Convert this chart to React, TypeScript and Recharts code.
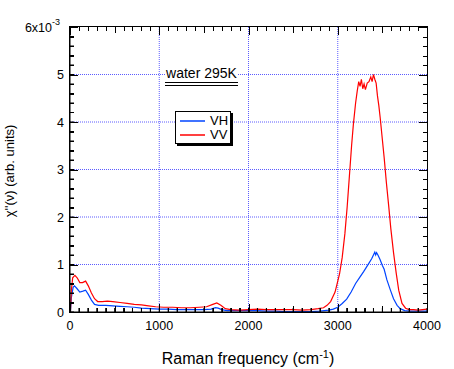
import { LineChart, Line, XAxis, YAxis, ReferenceLine } from 'recharts';

const FONT = '"Liberation Sans", Arial, Helvetica, sans-serif';

// Raman spectra of water at 295 K: [frequency (cm-1), chi'' in units of 1e-3]
const vhSpectrum: [number, number][] = [
  [5, 0], [15, 0.3], [35, 0.52], [50, 0.55], [75, 0.5], [110, 0.42], [145, 0.44],
  [175, 0.46], [205, 0.37], [240, 0.25], [275, 0.16], [320, 0.14], [400, 0.14],
  [480, 0.13], [560, 0.12], [640, 0.11], [720, 0.1], [800, 0.08], [900, 0.07],
  [1000, 0.06], [1100, 0.06], [1200, 0.05], [1300, 0.05], [1400, 0.05], [1500, 0.05],
  [1580, 0.06], [1630, 0.09], [1660, 0.08], [1700, 0.05], [1760, 0.03], [1850, 0.03],
  [2000, 0.03], [2100, 0.03], [2200, 0.02], [2300, 0.02], [2400, 0.01], [2500, 0.01],
  [2600, 0.01], [2700, 0.01], [2800, 0.02], [2900, 0.04], [2950, 0.06], [3000, 0.1],
  [3050, 0.18], [3100, 0.27], [3150, 0.42], [3200, 0.6], [3250, 0.74], [3290, 0.85],
  [3320, 0.94], [3350, 1.03], [3380, 1.12], [3400, 1.2], [3415, 1.26], [3425, 1.2],
  [3435, 1.25], [3450, 1.2], [3475, 1.1], [3500, 0.98], [3520, 0.9], [3550, 0.68],
  [3590, 0.46], [3625, 0.28], [3665, 0.14], [3700, 0.07], [3750, 0.03], [3800, 0.02],
  [3900, 0.02], [4000, 0.02],
];

const vvSpectrum: [number, number][] = [
  [5, 0], [15, 0.45], [30, 0.72], [55, 0.77], [80, 0.72], [110, 0.62], [140, 0.62],
  [175, 0.65], [205, 0.55], [240, 0.4], [275, 0.28], [310, 0.22], [360, 0.22],
  [420, 0.23], [480, 0.22], [560, 0.2], [640, 0.18], [720, 0.16], [800, 0.15],
  [880, 0.13], [960, 0.11], [1050, 0.1], [1150, 0.1], [1250, 0.09], [1350, 0.09],
  [1450, 0.1], [1530, 0.11], [1600, 0.16], [1645, 0.19], [1690, 0.14], [1740, 0.07],
  [1800, 0.05], [1900, 0.04], [2000, 0.05], [2100, 0.06], [2200, 0.05], [2300, 0.05],
  [2400, 0.05], [2500, 0.05], [2600, 0.04], [2700, 0.05], [2780, 0.07], [2840, 0.09],
  [2880, 0.14], [2920, 0.22], [2970, 0.42], [3020, 0.8], [3050, 1.15], [3080, 1.65],
  [3105, 2.2], [3130, 2.85], [3155, 3.5], [3175, 3.95], [3200, 4.4], [3218, 4.65],
  [3235, 4.85], [3250, 4.75], [3265, 4.9], [3280, 4.7], [3295, 4.8], [3310, 4.68],
  [3330, 4.82], [3350, 4.85], [3370, 4.95], [3385, 4.85], [3400, 5.0], [3415, 4.9],
  [3430, 4.82], [3445, 4.55], [3460, 4.35], [3475, 4.1], [3495, 3.72], [3520, 3.25],
  [3545, 2.72], [3570, 2.25], [3595, 1.75], [3625, 1.25], [3655, 0.82], [3683, 0.46],
  [3720, 0.18], [3760, 0.08], [3800, 0.05], [3850, 0.05], [3900, 0.04], [3950, 0.05],
  [4000, 0.06],
];

const seriesNames = ['VH', 'VV'];
const seriesColors = ['#0044ff', '#ff0000'];

const xGrid = [1000, 2000, 3000];
const yGrid = [1, 2, 3, 4, 5];
const xTicks = Array.from({ length: 41 }, (_, i) => i * 100);
const yTicks = Array.from({ length: 31 }, (_, i) => (i * 2) / 10);

const vhRows = vhSpectrum.map(([x, y]) => ({ x, y }));
const vvRows = vvSpectrum.map(([x, y]) => ({ x, y }));

// plot box (matches the chart margins below)
const BOX = { left: 70, top: 27, right: 427, bottom: 312 };
const pxX = (v: number) => Math.round(BOX.left + (v / 4000) * (BOX.right - BOX.left));
const pxY = (v: number) => Math.round(BOX.bottom - (v / 6) * (BOX.bottom - BOX.top));

const isWhole = (v: number) => Math.abs(v - Math.round(v)) < 1e-6;
const xLen = (v: number) => (v % 1000 === 0 ? 8 : v % 500 === 0 ? 6 : 4);
const yLen = (v: number) => (isWhole(v) ? 8 : 4);

// tick labels only; the inward tick lines come from tickSize={-4}
const bottomTick = (p: any) => {
  const v = p.payload.value;
  if (v % 1000 !== 0) return <g key={'b' + v} />;
  return (
    <text key={'b' + v} x={p.x} y={Number(p.y) + 18} textAnchor="middle" fontSize={12.5} fontFamily={FONT} fill="#000">
      {v}
    </text>
  );
};

const leftTick = (p: any) => {
  const v = p.payload.value;
  const n = Math.round(v);
  const x = Number(p.x);
  const y = Number(p.y) + 4.5;
  if (!isWhole(v)) return <g key={'l' + v} />;
  if (n === 6)
    return (
      <text key="l6" x={x - 10} y={y} textAnchor="end" fontSize={12.5} fontFamily={FONT} fill="#000">
        6x10<tspan dy={-6.5} fontSize={9}>-3</tspan>
      </text>
    );
  return (
    <text key={'l' + v} x={x - 6} y={y} textAnchor="end" fontSize={12.5} fontFamily={FONT} fill="#000">
      {n}
    </text>
  );
};

const mark = (key: string, left: number, top: number, width: number, height: number) => (
  <div key={key} style={{ position: 'absolute', left, top, width, height, background: '#000' }} />
);

export default function App() {
  return (
    <div style={{ position: 'absolute', left: 0, top: 0, width: 454, height: 369 }}>
      <LineChart width={454} height={369} margin={{ top: 27, right: 27, bottom: 27, left: 10 }}>
        <XAxis
          dataKey="x"
          type="number"
          domain={[0, 4000]}
          ticks={xTicks}
          interval={0}
          tickSize={-4}
          tickMargin={4}
          tick={bottomTick}
          tickLine={{ stroke: '#000' }}
          axisLine={{ stroke: '#000' }}
          height={30}
        />
        <YAxis
          type="number"
          domain={[0, 6]}
          ticks={yTicks}
          interval={0}
          tickSize={-4}
          tickMargin={4}
          tick={leftTick}
          tickLine={{ stroke: '#000' }}
          axisLine={{ stroke: '#000' }}
          width={60}
        />
        {xGrid.map((v) => (
          <ReferenceLine key={'gx' + v} x={v} stroke="#5c5cff" strokeDasharray="1 1" />
        ))}
        {yGrid.map((v) => (
          <ReferenceLine key={'gy' + v} y={v} stroke="#5c5cff" strokeDasharray="1 1" />
        ))}
        <Line data={vhRows} dataKey="y" name={seriesNames[0]} stroke={seriesColors[0]} strokeWidth={1.2} dot={false} isAnimationActive={false} />
        <Line data={vvRows} dataKey="y" name={seriesNames[1]} stroke={seriesColors[1]} strokeWidth={1.2} dot={false} isAnimationActive={false} />
      </LineChart>

      {/* frame and inward tick marks on all four sides */}
      <div style={{ position: 'absolute', left: 0, top: 0, width: 454, height: 369, pointerEvents: 'none' }}>
        <div
          style={{
            position: 'absolute',
            left: BOX.left - 1,
            top: BOX.top - 1,
            width: BOX.right - BOX.left + 2,
            height: BOX.bottom - BOX.top + 2,
            border: '1px solid #000',
            boxSizing: 'border-box',
          }}
        />
        {xTicks.map((v) => mark('tb' + v, pxX(v), BOX.bottom - xLen(v), 1, xLen(v)))}
        {xTicks.map((v) => mark('tt' + v, pxX(v), BOX.top, 1, xLen(v)))}
        {yTicks.map((v) => mark('tl' + v, BOX.left, pxY(v), yLen(v), 1))}
        {yTicks.map((v) => mark('tr' + v, BOX.right - yLen(v), pxY(v), yLen(v), 1))}
      </div>

      {/* axis titles */}
      <div
        style={{
          position: 'absolute',
          left: 8.5,
          top: 171,
          transform: 'translate(-50%, -50%) rotate(-90deg)',
          whiteSpace: 'nowrap',
          fontFamily: FONT,
          fontSize: 13,
          lineHeight: '15px',
          color: '#000',
        }}
      >
        χ''(ν) (arb. units)
      </div>
      <div
        style={{
          position: 'absolute',
          left: 248,
          top: 350,
          transform: 'translateX(-50%)',
          whiteSpace: 'nowrap',
          fontFamily: FONT,
          fontSize: 16,
          lineHeight: '18px',
          color: '#000',
        }}
      >
        Raman frequency (cm<span style={{ fontSize: 11, position: 'relative', top: -6 }}>-1</span>)
      </div>

      {/* title with double underline */}
      <div
        style={{
          position: 'absolute',
          left: 165,
          top: 65,
          width: 73,
          background: '#fff',
          fontFamily: FONT,
          fontSize: 14,
          lineHeight: '17px',
          textAlign: 'center',
          color: '#000',
        }}
      >
        water 295K
        <div style={{ borderTop: '1px solid #000' }} />
        <div style={{ borderTop: '1px solid #000', marginTop: 2 }} />
      </div>

      {/* legend box with drop shadow */}
      <div
        style={{
          position: 'absolute',
          left: 175,
          top: 111,
          width: 54,
          height: 31,
          border: '1px solid #000',
          background: '#fff',
          boxShadow: '2px 2px 0 #000',
          fontFamily: FONT,
          fontSize: 13,
          color: '#000',
        }}
      >
        {seriesNames.map((name, i) => (
          <div key={name} style={{ display: 'flex', alignItems: 'center', height: 14, marginTop: i === 0 ? 2 : 0 }}>
            <svg width={30} height={14}>
              <line x1={4} x2={29} y1={7} y2={7} stroke={seriesColors[i]} strokeWidth={1.5} />
            </svg>
            <span style={{ marginLeft: 4, lineHeight: '14px' }}>{name}</span>
          </div>
        ))}
      </div>
    </div>
  );
}
